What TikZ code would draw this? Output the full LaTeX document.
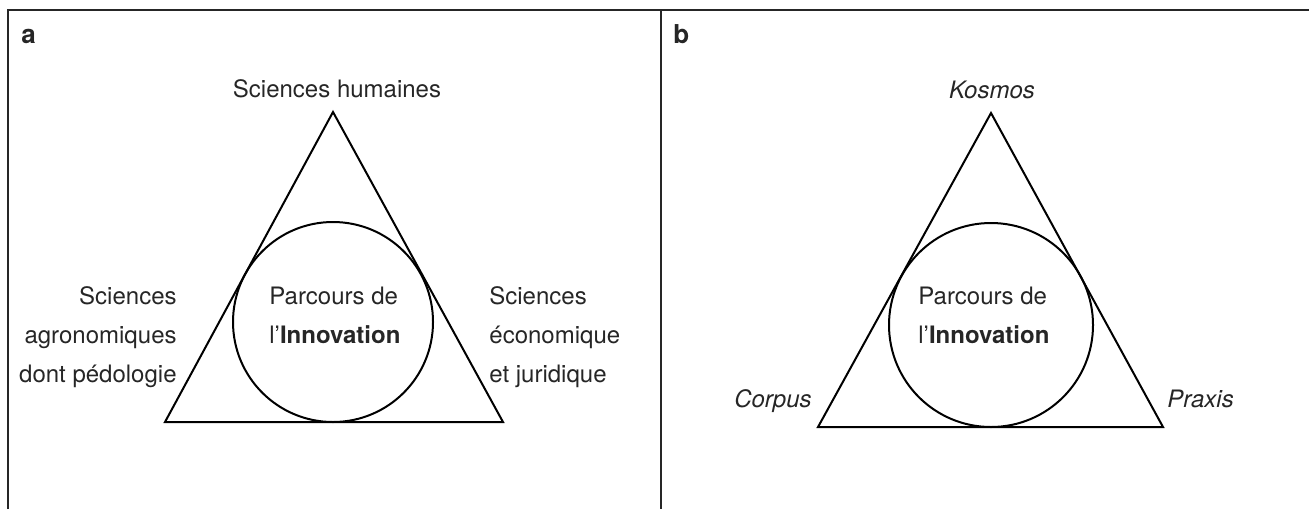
\documentclass[tikz,border=0pt]{standalone}
\usepackage{fontspec}
\setmainfont{TeX Gyre Heros}
\usetikzlibrary{positioning}
\tikzset{
    frame/.style={
        line width=1pt,
        draw=black!85
    },
    tri/.style={
        line width=1pt,
        line join=miter
    },
    incircle/.style={
        circle,
        draw,
        line width=1pt,
        inner sep=0pt
    },
    txt/.style={
        inner sep=0pt,
        font=\fontsize{12}{19.5}\selectfont,
        text=black!85
    },
    panel/.style={
        inner sep=0pt,
        anchor=base west,
        font=\fontsize{13}{15}\selectfont\bfseries,
        text=black!85
    }
}

\begin{document}
\begin{tikzpicture}[x=0.5pt,y=-0.5pt]
    \useasboundingbox (0,0) rectangle (1309,509);
    % frame
    \draw[frame] (8,509) -- (8,10) -- (1309,10);
    \draw[frame] (661,10) -- (661,509);
    \node[panel] (pa) at (21,43) {a};
    \node[panel] (pb) at (673,43) {b};

    % panel a
    \coordinate (la) at (165,422);
    \coordinate (lb) at (503,422);
    \coordinate (lc) at (333,112);
    \draw[tri] (la) -- (lb) -- (lc) -- cycle;
    \node[incircle, minimum size=100pt] (lcirc) at (333,322) {};
    \node[txt, align=left, anchor=base west] (linno) at (269,343) {Parcours de\\l’\textbf{Innovation}};
    \node[txt, anchor=base] (lhum) at (337,97) {Sciences humaines};
    \node[txt, align=right, anchor=base east] (lagro) at (177,382) {Sciences\\agronomiques\\dont pédologie};
    \node[txt, align=left, anchor=base west] (leco) at (489,382) {Sciences\\économique\\et juridique};

    % panel b
    \coordinate (ra) at (818,427);
    \coordinate (rb) at (1163,427);
    \coordinate (rc) at (991,113);
    \draw[tri] (ra) -- (rb) -- (rc) -- cycle;
    \node[incircle, minimum size=102pt] (rcirc) at (991,325) {};
    \node[txt, align=left, anchor=base west] (rinno) at (918,343) {Parcours de\\l’\textbf{Innovation}};
    \node[txt, anchor=base, font=\fontsize{12}{19.5}\selectfont\itshape] (kosmos) at (992,98) {Kosmos};
    \node[txt, anchor=base east, font=\fontsize{12}{19.5}\selectfont\itshape] (corpus) at (812,407) {Corpus};
    \node[txt, anchor=base west, font=\fontsize{12}{19.5}\selectfont\itshape] (praxis) at (1167,407) {Praxis};
\end{tikzpicture}
\end{document}
